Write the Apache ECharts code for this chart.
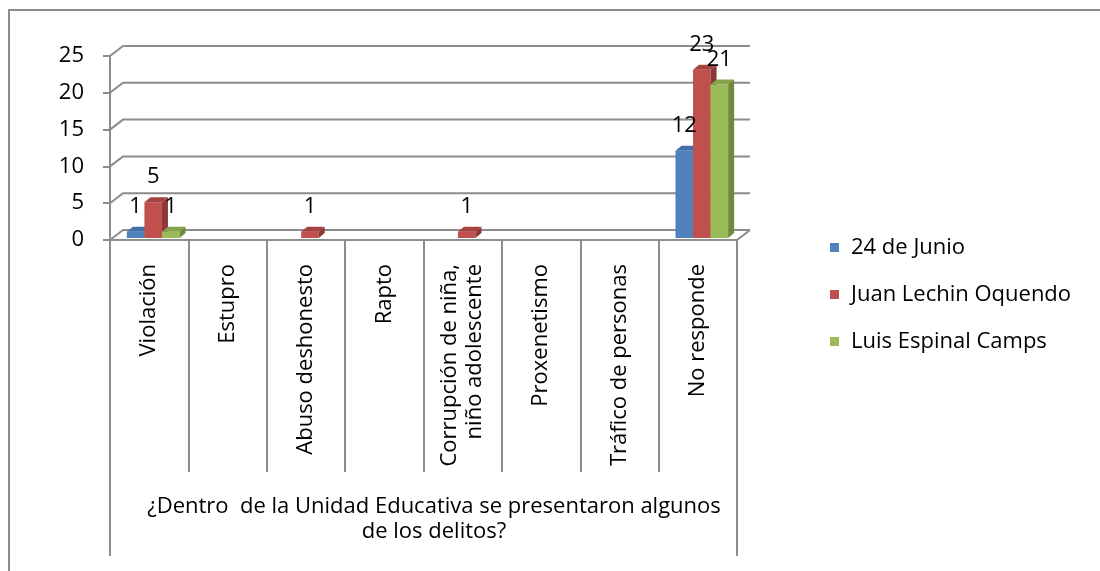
<!DOCTYPE html>
<html>
<head>
<meta charset="utf-8">
<script src="https://cdn.jsdelivr.net/npm/echarts@6/dist/echarts.min.js"></script>
<style>
  html, body { margin: 0; padding: 0; background: #ffffff; }
  #chart { width: 1100px; height: 571px; }
</style>
</head>
<body>
<div id="chart"></div>
<script>
// ---- data ----
const categories = [
  'Violación',
  'Estupro',
  'Abuso deshonesto',
  'Rapto',
  'Corrupción de niña,\nniño adolescente',
  'Proxenetismo',
  'Tráfico de personas',
  'No responde'
];
const seriesNames = ['24 de Junio', 'Juan Lechin Oquendo', 'Luis Espinal Camps'];
const junio = [1, null, null, null, null, null, null, 12];
const lechin = [5, null, 1, null, 1, null, null, 23];
const espinal = [1, null, null, null, null, null, null, 21];
const yTicks = [0, 5, 10, 15, 20, 25];
const groupLabel = '¿Dentro  de la Unidad Educativa se presentaron algunos\nde los delitos?';

// ---- styles ----
const FONT = '"Open Sans", Lato, sans-serif';
const FS = 22;
const GRAY = '#8c8c8c';
const colors = [
  { front: '#4F81BD', top: '#4470A6', side: '#385D8A' },
  { front: '#C0504D', top: '#A6423F', side: '#8C3836' },
  { front: '#9BBB59', top: '#87A44C', side: '#71893F' }
];
const WALL_DX = 13, WALL_DY = 10;
const BAR_DX = 6, BAR_DY = 5;

function makeBarRender(si) {
  return function (params, api) {
    const v = api.value(1);
    if (!(v > 0)) return null;
    const cat = api.value(0);
    const band = api.size([1, 0])[0];
    const bw = band * 0.224;
    const base = api.coord([cat, 0]);
    const top = api.coord([cat, v]);
    const cx = base[0] + 4 + (si - 1) * bw;
    const x0 = cx - bw / 2;
    const yb = base[1] - 2;
    const yt = top[1] - 1;
    const c = colors[si];
    return {
      type: 'group',
      children: [
        { type: 'rect', shape: { x: x0, y: yt, width: bw, height: yb - yt }, style: { fill: c.front } },
        { type: 'polygon', shape: { points: [[x0, yt], [x0 + bw, yt], [x0 + bw + BAR_DX, yt - BAR_DY], [x0 + BAR_DX, yt - BAR_DY]] }, style: { fill: c.top } },
        { type: 'polygon', shape: { points: [[x0 + bw, yt], [x0 + bw + BAR_DX, yt - BAR_DY], [x0 + bw + BAR_DX, yb - BAR_DY], [x0 + bw, yb]] }, style: { fill: c.side } },
        { type: 'text', x: cx, y: yt - 25, style: { text: String(v), fill: '#000', font: FS + 'px ' + FONT, textAlign: 'center', textVerticalAlign: 'middle' }, z2: 10 }
      ]
    };
  };
}

function wallRender(params, api) {
  const v = api.value(0);
  const cs = params.coordSys;
  const left = cs.x, right = cs.x + cs.width;
  const y = api.coord([0, v])[1];
  const children = [];
  const st = { stroke: GRAY, lineWidth: 2, fill: null };
  children.push({ type: 'polyline', shape: { points: [[left, y], [left + WALL_DX, y - WALL_DY], [right + WALL_DX, y - WALL_DY]] }, style: st });
  if (v === 0) {
    children.push({ type: 'line', shape: { x1: right, y1: y, x2: right + WALL_DX, y2: y - WALL_DY }, style: st });
    children.push({ type: 'line', shape: { x1: left, y1: y, x2: left, y2: y + 316 }, style: st });
    children.push({ type: 'line', shape: { x1: right, y1: y, x2: right, y2: y + 316 }, style: st });
  }
  return { type: 'group', children: children };
}

const chart = echarts.init(document.getElementById('chart'), null, { renderer: 'canvas' });

const barSeries = [junio, lechin, espinal].map(function (arr, si) {
  return {
    type: 'custom',
    name: seriesNames[si],
    renderItem: makeBarRender(si),
    itemStyle: { color: colors[si].front },
    encode: { x: 0, y: 1 },
    data: arr.map(function (v, i) { return [i, v == null ? '-' : v]; }),
    z: 5
  };
});

chart.setOption({
  animation: false,
  color: colors.map(function (c) { return c.front; }),
  textStyle: { fontFamily: FONT },
  grid: { left: 110, top: 56, width: 627, height: 184, containLabel: false },
  legend: {
    orient: 'vertical',
    left: 825,
    top: 228,
    itemWidth: 9,
    itemHeight: 9,
    itemGap: 18,
    icon: 'rect',
    data: seriesNames,
    textStyle: { fontSize: FS, color: '#000', fontFamily: FONT, padding: [0, 0, 0, 7], lineHeight: 29 },
    selectedMode: false
  },
  xAxis: {
    type: 'category',
    data: categories,
    boundaryGap: true,
    axisLine: { show: true, lineStyle: { color: GRAY, width: 2 } },
    axisTick: { show: true, length: 232, interval: 0, lineStyle: { color: GRAY, width: 2 } },
    axisLabel: { interval: 0, rotate: 90, margin: 24, fontSize: FS, color: '#000', fontFamily: FONT, lineHeight: 25 },
    splitLine: { show: false }
  },
  yAxis: {
    type: 'value',
    min: 0,
    max: 25,
    interval: 5,
    axisLine: { show: true, lineStyle: { color: GRAY, width: 2 } },
    axisTick: { show: true, length: 7, lineStyle: { color: GRAY, width: 2 } },
    axisLabel: { margin: 26, fontSize: FS, color: '#000', fontFamily: FONT },
    splitLine: { show: false }
  },
  graphic: [
    { type: 'polyline', shape: { points: [[9, 600], [9, 10], [1120, 10]] }, style: { stroke: GRAY, lineWidth: 2, fill: null }, silent: true },
    {
      type: 'text',
      x: 434,
      y: 519.5,
      style: { text: groupLabel, fill: '#000', font: FS + 'px ' + FONT, textAlign: 'center', textVerticalAlign: 'middle', lineHeight: 25 }
    }
  ],
  series: barSeries.concat([{
    type: 'custom',
    name: 'wall',
    renderItem: wallRender,
    encode: { y: 0 },
    data: yTicks.map(function (t) { return [t]; }),
    silent: true,
    z: 1
  }])
});
</script>
</body>
</html>
